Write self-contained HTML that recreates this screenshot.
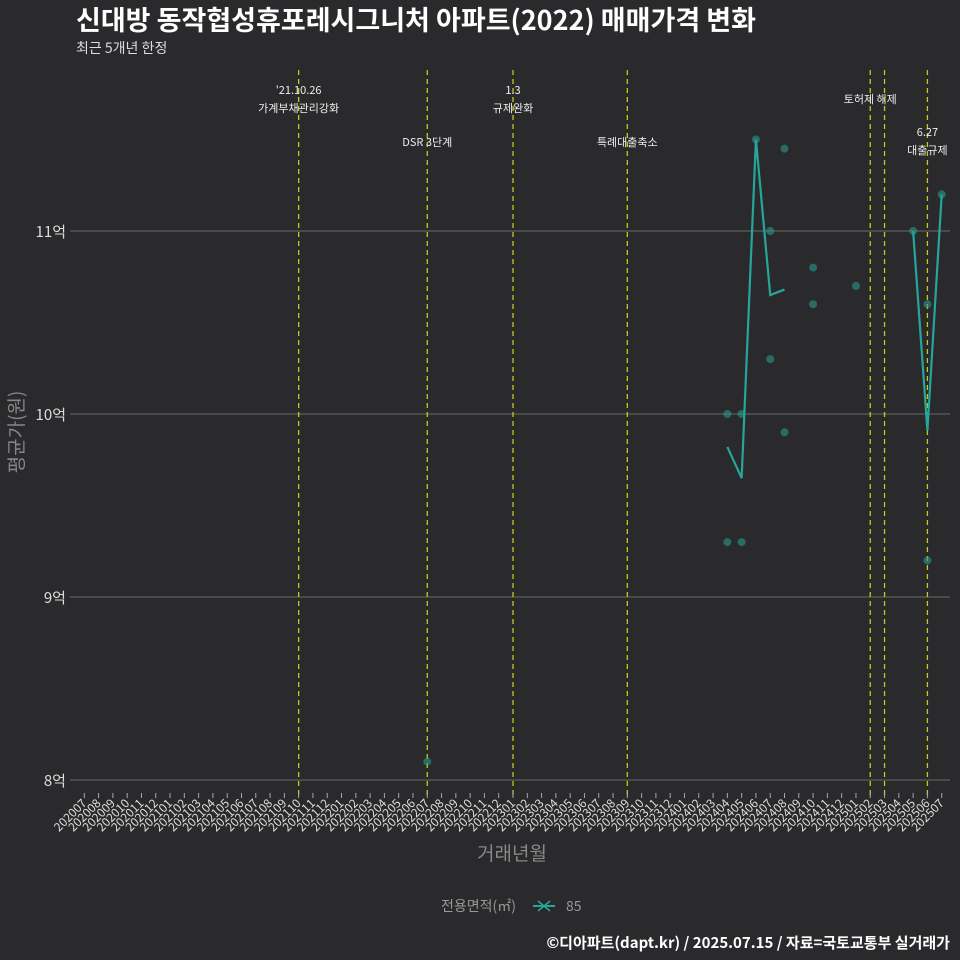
<!DOCTYPE html>
<html><head><meta charset="utf-8"><style>
body{margin:0;background:#2a292b;}
svg{display:block;font-family:"Noto Sans CJK KR","Liberation Sans",sans-serif;}
</style></head><body>
<svg id="c" width="960" height="960">
<rect width="960" height="960" fill="#2a292b"/>
<text x="76" y="30" font-size="27" font-weight="bold" fill="#fff">신대방 동작협성휴포레시그니처 아파트(2022) 매매가격 변화</text>
<text x="76" y="53" font-size="14" fill="#ddd">최근 5개년 한정</text>
<g id="grid"></g><g id="vlines"></g><g id="marks"></g><g id="xt"></g>
<text transform="translate(23,432) rotate(-90)" text-anchor="middle" font-size="19" fill="#888">평균가(원)</text>
<text x="512" y="860" text-anchor="middle" font-size="19" fill="#888">거래년월</text>
<g>
<text x="441" y="911" font-size="14" fill="#999">전용면적(㎡)</text>
<g><line x1="533" y1="906" x2="555" y2="906" stroke="#26a69a" stroke-width="2"/><path d="M538 901 L550 911 M538 911 L550 901" stroke="#26a69a" stroke-width="1.5"/>
<text x="566" y="911" font-size="14" fill="#999">85</text></g></g>
<text x="950" y="948" text-anchor="end" font-size="15" font-weight="bold" fill="#fff">©디아파트(dapt.kr) / 2025.07.15 / 자료=국토교통부 실거래가</text>
</svg>
<script>
const months=[];for(let y=2020;y<=2025;y++)for(let m=1;m<=12;m++){const k=y*100+m;if(k>=202007&&k<=202507)months.push(String(k));}
const yTicks=[8,9,10,11];
const yTickLabels=["8억","9억","10억","11억"];
const pointMonths=["202207","202404","202404","202405","202405","202406","202407","202407","202408","202408","202410","202410","202501","202505","202506","202506","202507"];
const pointValues=[8.1,10.0,9.3,10.0,9.3,11.5,11.0,10.3,11.45,9.9,10.8,10.6,10.7,11.0,10.6,9.2,11.2];
const lineMonths=["202404","202405","202406","202407","202408","202505","202506","202507"];
const lineValues=[9.82,9.65,11.5,10.65,10.68,11.0,9.91,11.2];
const eventMonths=["202110","202207","202301","202309","202502","202503","202506"];
const eventLabels=[["'21.10.26","가계부채관리강화"],["DSR 3단계"],["1.3","규제완화"],["특례대출축소"],["토허제 해제"],[],["6.27","대출규제"]];
const eventLabelY=[90,142,90,142,99,0,132];
const NS="http://www.w3.org/2000/svg";
const X=m=>84.3+months.indexOf(m)*14.29;
const Y=v=>414-(v-10)*183;
function mk(t,a,p,txt){const e=document.createElementNS(NS,t);for(const k in a)e.setAttribute(k,a[k]);if(txt!=null)e.textContent=txt;p.appendChild(e);return e;}
const grid=document.getElementById('grid'),vl=document.getElementById('vlines'),mg=document.getElementById('marks'),xt=document.getElementById('xt');
yTicks.forEach((v,i)=>{
 const l=mk('line',{x1:70,x2:950,y1:Y(v),y2:Y(v),stroke:'#5e5e5e','stroke-width':1.2},grid);
 
 
 const t=mk('text',{x:66,y:Y(v)+6,'text-anchor':'end','font-size':15,fill:'#ddd'},grid,yTickLabels[i]);
 
 
});
months.forEach(m=>{
 const x=X(m);
 mk('line',{x1:x,x2:x,y1:793,y2:798,stroke:'#aaa'},xt);
 const t=mk('text',{transform:`translate(${x+3},804) rotate(-45)`,'text-anchor':'end','font-size':12,fill:'#ddd'},xt,m);
 
 
});
eventMonths.forEach((m,i)=>{
 const x=X(m);
 const l=mk('line',{x1:x,x2:x,y1:70,y2:798,stroke:'#c8c81e','stroke-width':1.3,'stroke-dasharray':'5,4'},vl);
 
 
 eventLabels[i].forEach((s,j)=>{
  const t=mk('text',{x:x,y:eventLabelY[i]+j*18+4,'text-anchor':'middle','font-size':11,fill:'#eee'},vl,s);
  
  
 });
});
pointMonths.forEach((m,i)=>{
 const c=mk('circle',{cx:X(m),cy:Y(pointValues[i]),r:4,fill:'#2a9a8e','fill-opacity':0.6},mg);
 
 
});
let seg=[];
const flush=()=>{if(seg.length>1){const p=mk('polyline',{points:seg.map(q=>q.join(',')).join(' '),fill:'none',stroke:'#26a69a','stroke-width':2.2},mg);
 
 }seg=[];};
lineMonths.forEach((m,i)=>{
 if(i>0&&months.indexOf(m)!==months.indexOf(lineMonths[i-1])+1)flush();
 seg.push([X(m),Y(lineValues[i])]);
});
flush();
</script>
</body></html>
